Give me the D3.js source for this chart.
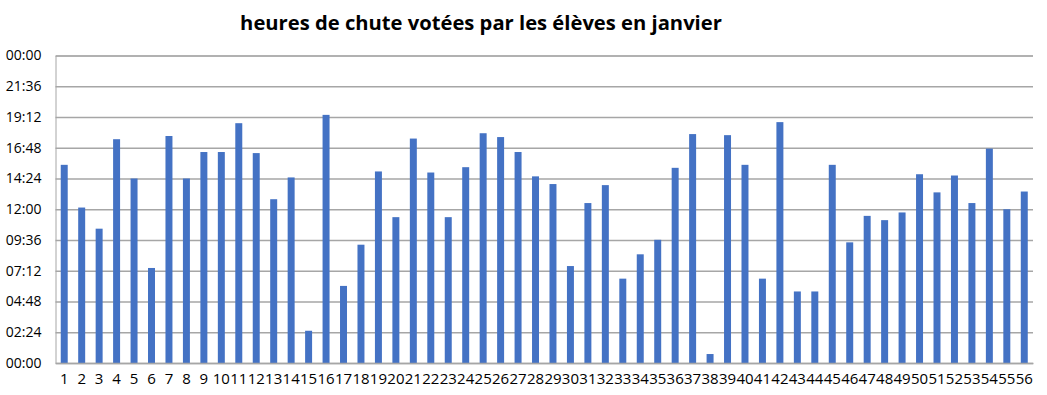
<!doctype html>
<html lang="fr">
<head>
  <meta charset="utf-8">
  <title>heures de chute</title>
  <script src="https://cdnjs.cloudflare.com/ajax/libs/d3/7.8.5/d3.min.js"></script>
  <style>
    body { margin: 0; background: #fff; }
    text { font-family: "Open Sans", "Noto Sans", sans-serif; }
  </style>
</head>
<body>
  <svg width="1047" height="395" id="svg"></svg>
<script>
  // élèves 1..56 et heure votée (HH:MM)
  var eleves = d3.range(1, 57);
  var heures = [
    "15:28","12:08","10:29","17:28","14:24","07:25","17:43","14:24","16:28","16:28",
    "18:43","16:23","12:47","14:29","02:31","19:22","06:01","09:14","14:57","11:23",
    "17:31","14:52","11:23","15:17","17:56","17:38","16:28","14:34","13:58","07:34",
    "12:29","13:53","06:35","08:29","09:37","15:14","17:52","00:42","17:47","15:28",
    "06:35","18:48","05:35","05:35","15:28","09:25","11:29","11:09","11:45","14:44",
    "13:19","14:38","12:29","16:44","12:00","13:23"
  ];
  var yTicks = ["00:00","02:24","04:48","07:12","09:36","12:00","14:24","16:48","19:12","21:36","00:00"];
  var title = "heures de chute votées par les élèves en janvier";

  function toHours(s) {
    var p = s.split(":");
    return +p[0] + (+p[1]) / 60;
  }

  var svg = d3.select('#svg');
  var mLeft = 55.5, mRight = 1033, mTop = 55.5, mBottom = 363;

  var x = d3.scaleBand().domain(eleves).range([mLeft, mRight]).paddingInner(0.6).paddingOuter(0.3);
  var y = d3.scaleLinear().domain([0, 24]).range([mBottom, mTop]);

  svg.append('text')
    .attr('x', 481).attr('y', 30)
    .attr('text-anchor', 'middle')
    .attr('font-size', '20.2px').attr('font-weight', 'bold')
    .attr('fill', '#000')
    .text(title);

  // grille
  var yAxis = d3.axisLeft(y)
    .tickValues(d3.range(0, 24.01, 2.4))
    .tickSize(-(mRight - mLeft))
    .tickFormat(function(d, i) { return yTicks[i]; });
  var gy = svg.append('g').attr('transform', 'translate(' + mLeft + ',0)').call(yAxis);
  gy.select('.domain').attr('stroke', '#a6a6a6');
  gy.selectAll('.tick line').attr('stroke', '#a6a6a6').attr('stroke-width', 1.3);
  gy.selectAll('.tick text').attr('x', -14).attr('dy', '0.32em')
    .attr('font-size', '14px').attr('fill', '#000').attr('font-family', '"Open Sans", sans-serif');

  svg.selectAll('rect.bar')
    .data(heures)
    .enter()
    .append('rect')
    .attr('class', 'bar')
    .attr('x', function(d, i) { return x(eleves[i]); })
    .attr('width', x.bandwidth())
    .attr('y', function(d) { return y(toHours(d)); })
    .attr('height', function(d) { return mBottom - y(toHours(d)); })
    .attr('fill', '#4472c4');

  var xAxis = d3.axisBottom(x).tickSize(0).tickPadding(10);
  var gx = svg.append('g').attr('transform', 'translate(0,' + mBottom + ')').call(xAxis);
  gx.select('.domain').attr('stroke', '#a6a6a6').attr('stroke-width', 1.3);
  gx.selectAll('text').attr('font-size', '15px').attr('fill', '#000').attr('font-family', '"Open Sans", sans-serif');
</script>
</body>
</html>
